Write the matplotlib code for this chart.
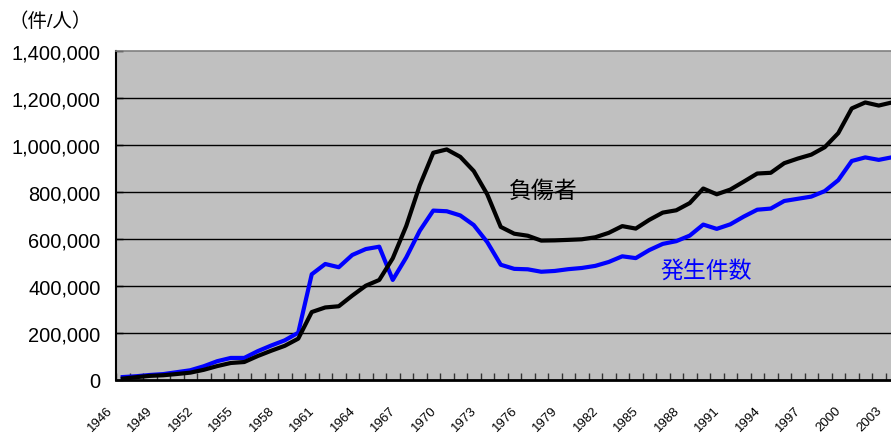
import numpy as np
import matplotlib
matplotlib.use('Agg')
import matplotlib.pyplot as plt
import matplotlib.transforms as mtransforms
from matplotlib.ticker import FuncFormatter, MultipleLocator

plt.rcParams['font.family'] = ['Liberation Sans', 'Noto Sans CJK JP']

# 年
anios = list(range(1946, 2005))

# 発生件数
accidentes = [
    12504, 16000, 21341, 25113, 33212, 41423, 58487, 80019, 93869, 93981,
    122691, 146833, 168799, 201292, 449917, 493693, 479825, 531966, 557183, 567286,
    425944, 521481, 635056, 720880, 718080, 700290, 659283, 586713, 490452, 472938,
    471041, 460649, 464037, 471573, 476677, 485578, 502261, 526362, 518642, 552788,
    579190, 590723, 614481, 661363, 643097, 662388, 695345, 724675, 729461, 761794,
    771085, 780401, 803878, 850371, 931950, 947253, 936721, 947993, 952191,
]

# 負傷者
heridos = [
    6000, 12000, 17609, 20242, 25450, 31274, 43321, 59280, 72390, 76501,
    102072, 124530, 145432, 175951, 289156, 308697, 313813, 359089, 401117, 425666,
    517775, 655377, 828071, 967000, 981096, 949689, 889198, 789948, 651420, 622467,
    613957, 593211, 594116, 596282, 598719, 607346, 626192, 654822, 644321, 681346,
    712330, 722179, 752845, 814832, 790295, 810245, 844003, 878633, 881723, 922677,
    942204, 958925, 990675, 1050399, 1155707, 1181039, 1167855, 1181431, 1183120,
]

x = np.arange(len(anios))

fig = plt.figure(figsize=(8.91, 4.35), dpi=100)
# el eje sigue más allá del borde derecho (la imagen original está recortada)
ax_izq = 116 / 891
ancho = len(anios) * 13.5 / 891
ax = fig.add_axes([ax_izq, 54 / 435, ancho, 329 / 435])
ax.set_facecolor('#C0C0C0')

# Líneas de cuadrícula
for v in range(200000, 1400000, 200000):
    ax.axhline(v, color='black', lw=1, zorder=1)

ax.plot(x, accidentes, color='#0000FF', lw=3, zorder=3, solid_joinstyle='round')
ax.plot(x, heridos, color='black', lw=3, zorder=4, solid_joinstyle='round')

ax.set_xlim(-0.5, len(anios) - 0.5)
ax.set_ylim(0, 1400000)

# Eje Y
ax.yaxis.set_major_locator(MultipleLocator(200000))
ax.yaxis.set_major_formatter(FuncFormatter(lambda v, p: f'{int(v):,}'))
ax.tick_params(axis='y', direction='in', length=5, width=1, pad=11, labelsize=14.4)

# Eje X: marcas en los límites de categoría, etiquetas cada 3 años
ax.set_xticks(np.arange(len(anios)) - 0.5)
ax.set_xticklabels([])
ax.tick_params(axis='x', direction='in', length=5, width=1, color='#333333')
trans = mtransforms.blended_transform_factory(ax.transData, ax.transAxes)
desplaz = mtransforms.ScaledTranslation(-8 / 100, -24 / 100, fig.dpi_scale_trans)
for i in range(0, len(anios), 3):
    ax.text(x[i], 0, str(anios[i]), transform=trans + desplaz, rotation=45,
            ha='right', va='top', fontsize=9.5, clip_on=False)

for lado in ['left', 'bottom']:
    ax.spines[lado].set_color('black')
ax.spines['left'].set_linewidth(1.5)
ax.spines['bottom'].set_linewidth(2)
ax.spines['top'].set_color('#808080')
ax.spines['top'].set_linewidth(1.2)
ax.spines['right'].set_visible(False)

# Textos
fig.text(8 / 891, 1 - 22 / 435, '（件/人）', fontsize=14, va='center', ha='left')
fig.text(543 / 891, 1 - 191 / 435, '負傷者', fontsize=16.5, color='black', ha='center', va='center')
fig.text(706 / 891, 1 - 271 / 435, '発生件数', fontsize=16.5, color='#0000FF', ha='center', va='center')

plt.savefig('out.png', dpi=100)
